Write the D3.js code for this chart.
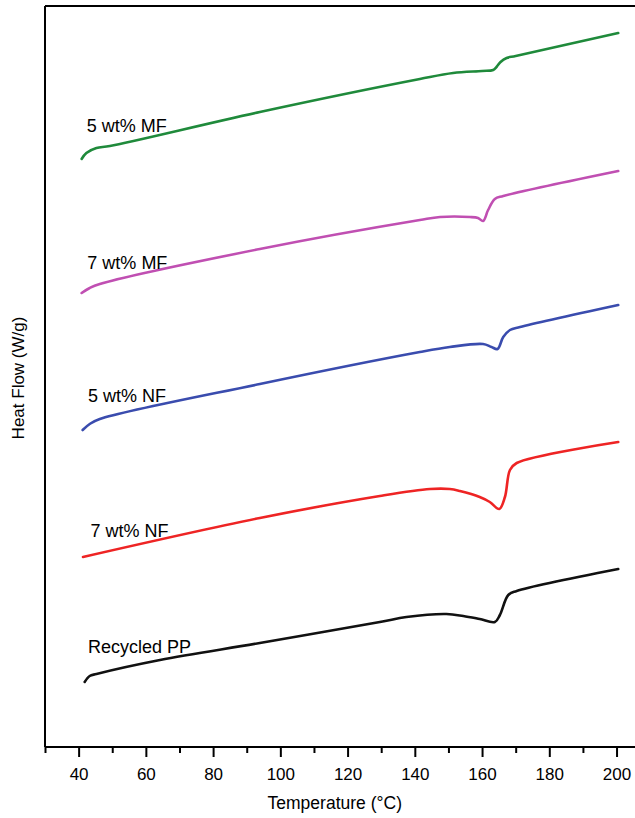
<!DOCTYPE html>
<html>
<head>
<meta charset="utf-8">
<script src="https://cdn.jsdelivr.net/npm/d3@7"></script>
<style>
  html, body { margin: 0; padding: 0; background: #fff; }
  svg { display: block; font-family: "Liberation Sans", Arial, sans-serif; }
</style>
</head>
<body>
<svg id="chart" width="635" height="818"></svg>
<script>
// ---- data (temperature °C, heat flow in arbitrary offset units) ----
const seriesNames = ["5 wt% MF", "7 wt% MF", "5 wt% NF", "7 wt% NF", "Recycled PP"];
const seriesColors = ["#1f8a3b", "#c04fb2", "#3a4cae", "#ee2424", "#111111"];

const mf5T = [40.9, 42.3, 45.3, 49.3, 93.9, 141.5, 151.4, 160.0, 163.3, 164.3, 165.5, 167.3, 170.0, 200.5];
const mf5V = [5.87, 5.93, 5.98, 6.00, 6.34, 6.67, 6.73, 6.75, 6.76, 6.79, 6.84, 6.88, 6.90, 7.13];

const mf7T = [40.9, 43.3, 46.3, 93.9, 141.5, 147.5, 156.4, 158.8, 160.3, 161.8, 163.8, 166.3, 200.5];
const mf7V = [4.53, 4.58, 4.62, 4.97, 5.26, 5.29, 5.29, 5.28, 5.25, 5.36, 5.47, 5.50, 5.75];

const nf5T = [41.2, 43.3, 46.3, 93.9, 141.5, 150.4, 160.3, 162.8, 164.6, 166.3, 168.3, 171.3, 200.5];
const nf5V = [3.16, 3.22, 3.27, 3.62, 3.94, 3.99, 4.02, 3.99, 3.97, 4.09, 4.16, 4.19, 4.41];

const nf7T = [41.3, 93.9, 129.6, 144.5, 150.4, 153.4, 159.3, 162.3, 165.1, 166.8, 168.3, 170.3, 200.5];
const nf7V = [1.89, 2.28, 2.50, 2.57, 2.57, 2.55, 2.49, 2.44, 2.37, 2.49, 2.76, 2.83, 3.04];

const ppT = [41.8, 43.3, 45.3, 64.2, 93.9, 129.6, 137.5, 149.4, 154.4, 159.3, 163.8, 165.3, 167.8, 170.3, 200.5];
const ppV = [0.64, 0.70, 0.72, 0.86, 1.03, 1.24, 1.29, 1.32, 1.30, 1.27, 1.24, 1.31, 1.51, 1.55, 1.77];

const xTicks = [40, 60, 80, 100, 120, 140, 160, 180, 200];
const xMinorTicks = [30, 50, 70, 90, 110, 130, 150, 170, 190, 210];
const xTitle = "Temperature (°C)";
const yTitle = "Heat Flow (W/g)";

// label anchors (temperature, heat flow)
const labelT = [42.4, 42.6, 42.8, 43.5, 42.8];
const labelV = [6.14, 4.77, 3.44, 2.09, 0.93];

// ---- layout ----
const svg = d3.select("#chart");
const plotLeft = 45, plotTop = 6, plotBottom = 747;
const x = d3.scaleLinear().domain([30, 210]).range([plotLeft, plotLeft + 180 * 3.362]);
const y = d3.scaleLinear().domain([0, 7.4]).range([746, 6]);

const series = [
  {T: mf5T, V: mf5V}, {T: mf7T, V: mf7V}, {T: nf5T, V: nf5V}, {T: nf7T, V: nf7V}, {T: ppT, V: ppV}
];

// frame: top border and left axis
svg.append("line").attr("x1", plotLeft).attr("x2", 700).attr("y1", plotTop).attr("y2", plotTop)
  .attr("stroke", "#000").attr("stroke-width", 2);
svg.append("line").attr("x1", plotLeft).attr("x2", plotLeft).attr("y1", plotTop).attr("y2", plotBottom)
  .attr("stroke", "#000").attr("stroke-width", 2);

// bottom axis
const xAxis = d3.axisBottom(x).tickValues(xTicks).tickSize(10).tickSizeOuter(0).tickPadding(11);
const gx = svg.append("g").attr("transform", `translate(0,${plotBottom})`).call(xAxis);
gx.select(".domain").attr("stroke", "#000").attr("stroke-width", 2).attr("d", `M${plotLeft},0H700`);
gx.selectAll(".tick line").attr("stroke", "#000").attr("stroke-width", 2);
gx.selectAll(".tick text").attr("font-size", 17).attr("fill", "#000")
  .attr("font-family", "Liberation Sans, Arial, sans-serif");

const gm = svg.append("g").attr("transform", `translate(0,${plotBottom})`)
  .call(d3.axisBottom(x).tickValues(xMinorTicks).tickSize(6).tickSizeOuter(0).tickFormat(""));
gm.select(".domain").remove();
gm.selectAll(".tick line").attr("stroke", "#000").attr("stroke-width", 2);

// axis titles
svg.append("text").attr("x", (x(100) + x(130)) / 2 + 4).attr("y", 809)
  .attr("text-anchor", "middle").attr("font-size", 17.5).text(xTitle);
svg.append("text").attr("transform", "translate(24,378) rotate(-90)")
  .attr("text-anchor", "middle").attr("font-size", 17).text(yTitle);

// curves
const line = d3.line().x(d => x(d[0])).y(d => y(d[1])).curve(d3.curveCatmullRom.alpha(0.5));
series.forEach((s, i) => {
  const pts = s.T.map((t, j) => [t, s.V[j]]);
  svg.append("path").attr("d", line(pts)).attr("fill", "none")
    .attr("stroke", seriesColors[i]).attr("stroke-width", 2.6)
    .attr("stroke-linejoin", "round").attr("stroke-linecap", "round");
});

// labels
seriesNames.forEach((n, i) => {
  svg.append("text").attr("x", x(labelT[i])).attr("y", y(labelV[i]))
    .attr("font-size", 18).attr("fill", "#000").text(n);
});
</script>
</body>
</html>
